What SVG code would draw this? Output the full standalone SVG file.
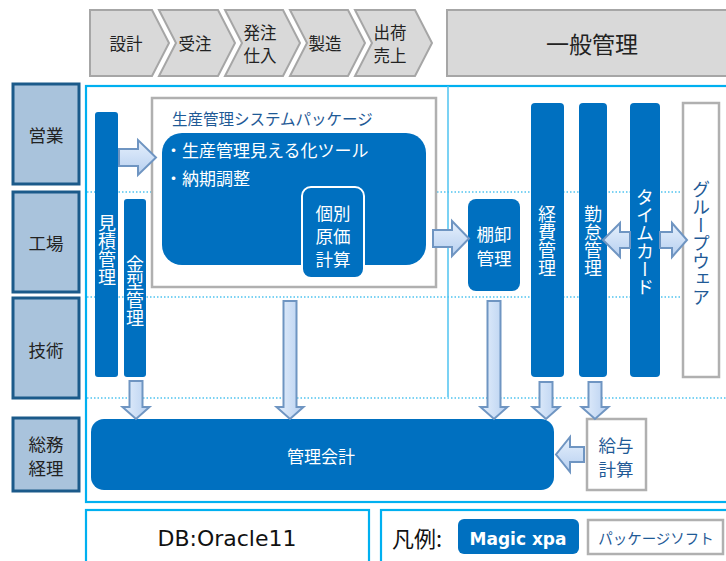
<svg xmlns="http://www.w3.org/2000/svg" width="726" height="561" viewBox="0 0 726 561">
<defs>
<linearGradient id="gh" x1="0" y1="0" x2="0" y2="1"><stop offset="0" stop-color="#e6f0fc"/><stop offset="1" stop-color="#b6cff0"/></linearGradient>
<linearGradient id="gv" x1="0" y1="0" x2="1" y2="0"><stop offset="0" stop-color="#e6f0fc"/><stop offset="1" stop-color="#b6cff0"/></linearGradient>
<style>
text{font-family:"Noto Sans CJK JP","Noto Sans",sans-serif;}
.chev{fill:#d9d9d9;stroke:#a6a6a6;stroke-width:2;}
.ct{font-size:16.5px;fill:#222;text-anchor:middle;dominant-baseline:central;}
.lab{fill:#a9c3dc;stroke:#1b5a8a;stroke-width:3;}
.lt{font-size:17.5px;fill:#222;text-anchor:middle;dominant-baseline:central;}
.blue{fill:#0070c0;}
.gbox{fill:#fff;stroke:#b0b0b0;stroke-width:2.5;}
.wt{fill:#fff;font-size:18px;text-anchor:middle;dominant-baseline:central;}
.dt{fill:#1f5a96;font-size:18px;text-anchor:middle;dominant-baseline:central;}
.ml{font-size:17.5px;}
.vt{writing-mode:vertical-rl;text-anchor:middle;font-size:18px;}
.frame{fill:none;stroke:#00b0f0;stroke-width:2.2;}
.dot{stroke:#4fc3f0;stroke-width:1.4;stroke-dasharray:1.5 2;fill:none;}
.ah{fill:url(#gh);stroke:#6f95c2;stroke-width:2;stroke-linejoin:miter;}
.av{fill:url(#gv);stroke:#6f95c2;stroke-width:2;stroke-linejoin:miter;}
</style>
</defs>
<rect width="726" height="561" fill="#fff"/>

<g id="process">
<polygon class="chev" points="90,10 152,10 169,43 152,76 90,76"/>
<polygon class="chev" points="159,10 218,10 235,43 218,76 159,76 176,43"/>
<polygon class="chev" points="225,10 283,10 300,43 283,76 225,76 242,43"/>
<polygon class="chev" points="290,10 348,10 365,43 348,76 290,76 307,43"/>
<polygon class="chev" points="355,10 415,10 432,43 415,76 355,76 372,43"/>
<text class="ct" x="126" y="43">設計</text>
<text class="ct" x="195" y="43">受注</text>
<text class="ct" x="260" y="32">発注</text>
<text class="ct" x="260" y="55">仕入</text>
<text class="ct" x="325" y="43">製造</text>
<text class="ct" x="390" y="32">出荷</text>
<text class="ct" x="390" y="55">売上</text>
</g>
<g id="general">
<rect class="chev" x="447" y="10" width="300" height="66"/>
<text class="ct" x="592" y="43" style="font-size:23px">一般管理</text>
</g>

<g id="depts">
<g id="eigyo"><rect class="lab" x="13" y="84" width="66" height="100"/><text class="lt" x="46" y="134">営業</text></g>
<g id="kojo"><rect class="lab" x="13" y="192" width="66" height="100"/><text class="lt" x="46" y="242">工場</text></g>
<g id="gijutsu"><rect class="lab" x="13" y="298" width="66" height="100"/><text class="lt" x="46" y="349">技術</text></g>
<g id="somu"><rect class="lab" x="13" y="418" width="66" height="73"/><text class="lt" x="46" y="443">総務</text><text class="lt" x="46" y="467">経理</text></g>
</g>

<g id="frames">
<rect class="frame" x="86" y="86" width="660" height="416"/>
<line class="dot" x1="87" y1="192" x2="682" y2="192"/>
<line class="dot" x1="87" y1="297" x2="682" y2="297"/>
<line class="dot" x1="87" y1="398" x2="726" y2="398"/>
<line x1="448" y1="86" x2="448" y2="397" stroke="#4fc3f0" stroke-width="1.5"/>
<rect class="frame" x="86" y="510" width="283" height="70"/>
<rect class="frame" x="381" y="510" width="360" height="70"/>
</g>

<g id="mitsumori"><rect class="blue" x="95" y="112" width="23" height="265" rx="3"/><text class="wt vt" x="107" y="250">見積管理</text></g>
<g id="kanagata"><rect class="blue" x="124" y="199" width="22" height="178" rx="3"/><text class="wt vt" x="135" y="291">金型管理</text></g>

<g id="package">
<rect class="gbox" x="152" y="98" width="284" height="189"/>
<text x="172" y="125" style="font-size:15.5px;fill:#1f5a96">生産管理システムパッケージ</text>
<rect class="blue" x="162" y="133" width="264" height="132" rx="20"/>
<text x="165" y="157" style="font-size:17px;fill:#fff">・生産管理見える化ツール</text>
<text x="165" y="185" style="font-size:17px;fill:#fff">・納期調整</text>
</g>
<g id="kobetsu">
<rect class="blue" x="302" y="187" width="62" height="91" rx="9" stroke="#fff" stroke-width="2"/>
<text class="wt ml" x="333" y="212">個別</text>
<text class="wt ml" x="333" y="235">原価</text>
<text class="wt ml" x="333" y="258">計算</text>
</g>
<g id="tanaoroshi">
<rect class="blue" x="468" y="199" width="52" height="92" rx="8"/>
<text class="wt ml" x="494" y="233">棚卸</text>
<text class="wt ml" x="494" y="257">管理</text>
</g>
<g id="keihi"><rect class="blue" x="531" y="103" width="33" height="274" rx="4"/><text class="wt vt" x="547" y="241">経費管理</text></g>
<g id="kintai"><rect class="blue" x="579" y="103" width="28" height="274" rx="4"/><text class="wt vt" x="593" y="241">勤怠管理</text></g>
<g id="timecard"><rect class="blue" x="630" y="103" width="30" height="274" rx="4"/><text class="wt vt" x="645" y="242">タイムカード</text></g>
<g id="groupware"><rect class="gbox" x="683" y="103" width="36" height="274"/><text class="dt vt" x="701" y="243">グループウェア</text></g>

<g id="kanrikaikei"><rect class="blue" x="91" y="419" width="463" height="71" rx="13"/><text class="wt" x="321" y="455" style="font-size:17px">管理会計</text></g>
<g id="kyuyo"><rect class="gbox" x="587" y="419" width="59" height="71"/><text class="dt ml" x="616" y="444">給与</text><text class="dt ml" x="616" y="468">計算</text></g>

<g id="connectors">
<path class="ah" d="M119,149 H138 V140 L156,157.5 L138,175 V166 H119 Z"/>
<path class="ah" d="M433,230 H452 V221 L469,238.5 L452,256 V247 H433 Z"/>
<path class="ah" d="M630,232 H620 V223 L603,240 L620,257 V248 H630 Z"/>
<path class="ah" d="M660,232 H672 V223 L687,240 L672,257 V248 H660 Z"/>
<path class="ah" d="M584,447 H570 V437 L556,454.5 L570,472 V462 H584 Z"/>
<path class="av" d="M129.5,381 V407 H122.5 L136,419 L149.5,407 H142.5 V381 Z"/>
<path class="av" d="M283.5,301 V407 H276.5 L290,419 L303.5,407 H296.5 V301 Z"/>
<path class="av" d="M487.5,301 V407 H480.5 L494,419 L507.5,407 H500.5 V301 Z"/>
<path class="av" d="M539.5,382 V407 H532.5 L546,419 L559.5,407 H552.5 V382 Z"/>
<path class="av" d="M588.5,382 V407 H581.5 L595,419 L608.5,407 H601.5 V382 Z"/>
</g>

<g id="db"><text x="227" y="546" style="font-family:'DejaVu Sans',sans-serif;font-size:22px;fill:#111;text-anchor:middle">DB:Oracle11</text></g>
<g id="legend">
<text x="392" y="547" style="font-size:22px;fill:#111">凡例:</text>
<rect class="blue" x="458" y="519" width="121" height="35" rx="6"/>
<text x="518" y="545" style="font-family:'DejaVu Sans',sans-serif;font-weight:bold;font-size:17px;fill:#fff;text-anchor:middle">Magic xpa</text>
<rect class="gbox" x="588" y="520" width="135" height="34"/>
<text x="656" y="544" style="font-size:14.5px;fill:#1f5a96;text-anchor:middle">パッケージソフト</text>
</g>
</svg>
